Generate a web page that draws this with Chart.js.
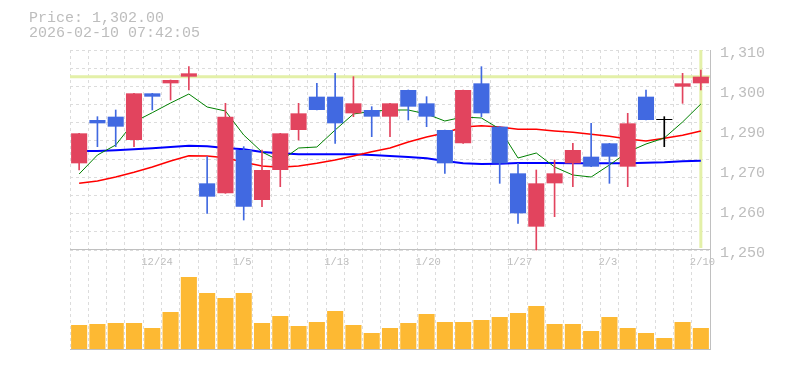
<!DOCTYPE html>
<html>
<head>
<meta charset="utf-8">
<script src="https://cdn.jsdelivr.net/npm/chart.js@4.4.1/dist/chart.umd.min.js"></script>
<style>
  html, body { margin: 0; padding: 0; background: #fff; }
  #wrap { position: relative; width: 785px; height: 370px; }
  #info {
    position: absolute; left: 29px; top: 11px;
    font: 15px/15px "Liberation Mono", monospace;
    color: #bdbdbd; white-space: pre;
  }
</style>
</head>
<body>
<div id="wrap">
  <canvas id="chart" width="785" height="370"></canvas>
  <div id="info"></div>
</div>
<script>
/* ---------------- DATA ---------------- */
const dates = ["12/18", "12/19", "12/22", "12/23", "12/24", "12/25", "12/26", "12/29", "12/30",
  "1/5", "1/6", "1/7", "1/8", "1/9", "1/13", "1/14", "1/15", "1/16", "1/19",
  "1/20", "1/21", "1/22", "1/23", "1/26", "1/27", "1/28", "1/29", "1/30", "2/2",
  "2/3", "2/4", "2/5", "2/6", "2/9", "2/10"];

const opens  = [1276, 1289, 1290, 1283, 1297, 1300, 1302, 1270, 1267, 1280, 1265, 1274, 1286, 1296, 1296, 1291, 1292, 1290,
  1298, 1294, 1286, 1282, 1300, 1287, 1273, 1257, 1270, 1276, 1278, 1282, 1275, 1296, 1289, 1299, 1300];
const highs  = [1285, 1290, 1292, 1297, 1297, 1301, 1305, 1278, 1294, 1281, 1280, 1285, 1294, 1300, 1303, 1302, 1293, 1294,
  1298, 1296, 1286, 1298, 1305, 1287, 1276, 1274, 1277, 1282, 1288, 1282, 1291, 1298, 1290, 1303, 1304];
const lows   = [1274, 1281, 1281, 1281, 1292, 1295, 1298, 1261, 1267, 1259, 1263, 1269, 1283, 1292, 1282, 1290, 1284, 1284,
  1289, 1287, 1273, 1282, 1290, 1270, 1258, 1250, 1260, 1269, 1275, 1270, 1269, 1289, 1281, 1294, 1298];
const closes = [1285, 1288, 1287, 1297, 1296, 1301, 1303, 1266, 1290, 1263, 1274, 1285, 1291, 1292, 1288, 1294, 1290, 1294,
  1293, 1290, 1276, 1298, 1291, 1276, 1261, 1270, 1273, 1280, 1275, 1278, 1288, 1289, 1289, 1300, 1302];

const ma5  = [1272.8, 1278.5, 1281.5, 1288.4, 1291.2, 1294.1, 1296.8, 1292.9, 1291.7, 1284.5, 1279.4, 1276.7, 1280.6,
  1280.9, 1286.0, 1290.8, 1291.6, 1292.0, 1292.0, 1290.8, 1288.7, 1289.9, 1289.6, 1286.3, 1277.6, 1279.1, 1274.9,
  1272.5, 1271.9, 1275.5, 1279.4, 1281.8, 1283.6, 1288.4, 1293.8];
const ma25 = [1270.0, 1270.7, 1271.9, 1273.3, 1274.9, 1276.7, 1278.3, 1278.2, 1277.7, 1276.3, 1275.2, 1274.8, 1275.2,
  1276.0, 1277.0, 1278.2, 1279.5, 1280.6, 1282.4, 1283.9, 1285.1, 1286.9, 1287.3, 1286.9, 1286.2, 1286.2, 1285.7,
  1285.3, 1284.7, 1284.1, 1283.3, 1282.7, 1283.5, 1284.4, 1285.7];
const ma75 = [1279.7, 1279.7, 1279.9, 1280.2, 1280.5, 1280.9, 1281.3, 1281.1, 1280.6, 1280.2, 1279.4, 1279.0, 1278.7,
  1278.7, 1278.7, 1278.7, 1278.5, 1278.2, 1277.9, 1277.5, 1276.7, 1276.0, 1275.8, 1275.9, 1276.1, 1276.1, 1276.1,
  1276.0, 1276.0, 1276.0, 1276.0, 1276.2, 1276.3, 1276.6, 1276.8];

const volumes = [240, 250, 260, 260, 210, 370, 720, 560, 510, 560, 260, 330, 230, 270, 380, 240, 160, 210,
  260, 350, 270, 270, 290, 320, 360, 430, 250, 250, 180, 320, 210, 160, 110, 270, 210];

const priceTicks = [1250, 1262, 1274, 1286, 1298, 1310];
const priceTickLabels = ["1,250", "1,260", "1,270", "1,290", "1,300", "1,310"];

const priceText = "Price: 1,302.00";
const timeText = "2026-02-10 07:42:05";

/* ---------------- LAYOUT ---------------- */
const PRICE_MIN = 1250, PRICE_MAX = 1310;
const PLOT_H = 299, PRICE_H = 200;      // price panel on top, volume panel below
const GRID_ROWS = 11;
const VOL_MAX = 2990;

const UP = "rgb(226,68,94)", DOWN = "rgb(65,105,225)", FLAT = "#000";
const GRID = "#dcdcdc", AXIS = "#c0c0c0", TEXT = "#bdbdbd";
const MONO = "'Liberation Mono', monospace";

document.getElementById("info").textContent = priceText + "\n" + timeText;

const candleColors = opens.map((o, i) => closes[i] > o ? UP : closes[i] < o ? DOWN : FLAT);

/* ---------------- CROSSHAIR ---------------- */
const crosshair = {
  id: "crosshair",
  beforeDatasetsDraw(chart) {
    const { ctx, chartArea, scales } = chart;
    const last = closes.length - 1;
    const x = scales.x.getPixelForValue(last);
    const y = scales.y.getPixelForValue(closes[last]);
    const bottom = scales.y.getPixelForValue(PRICE_MIN) - 2;
    ctx.save();
    ctx.strokeStyle = "#e3f0a8";
    ctx.lineWidth = 3;
    ctx.beginPath();
    ctx.moveTo(chartArea.left, y);
    ctx.lineTo(chartArea.right, y);
    ctx.moveTo(x, chartArea.top);
    ctx.lineTo(x, bottom);
    ctx.stroke();
    ctx.restore();
  }
};

/* ---------------- CHART ---------------- */
new Chart(document.getElementById("chart"), {
  type: "bar",
  data: {
    labels: dates,
    datasets: [
      {
        label: "body", order: 0, yAxisID: "y", grouped: false,
        data: opens.map((o, i) => [o, closes[i]]),
        backgroundColor: candleColors,
        barPercentage: 0.88, categoryPercentage: 1, minBarLength: 1
      },
      {
        label: "wick", order: 1, yAxisID: "y", grouped: false,
        data: lows.map((l, i) => [l, highs[i]]),
        backgroundColor: candleColors,
        barThickness: 1
      },
      { type: "line", label: "MA5", order: 2, yAxisID: "y", data: ma5,
        borderColor: "#008000", borderWidth: 1, pointRadius: 0, tension: 0 },
      { type: "line", label: "MA25", order: 3, yAxisID: "y", data: ma25,
        borderColor: "#ff0000", borderWidth: 1.5, pointRadius: 0, tension: 0 },
      { type: "line", label: "MA75", order: 4, yAxisID: "y", data: ma75,
        borderColor: "#0000ff", borderWidth: 2, pointRadius: 0, tension: 0 },
      {
        label: "volume", order: 5, yAxisID: "yv", grouped: false,
        data: volumes,
        backgroundColor: "#fdb933",
        barPercentage: 0.88, categoryPercentage: 1
      }
    ]
  },
  options: {
    responsive: false,
    animation: false,
    devicePixelRatio: 1,
    layout: { padding: { left: 70, top: 50, right: 0, bottom: 21 } },
    plugins: { legend: { display: false }, tooltip: { enabled: false }, title: { display: false } },
    scales: {
      x: {
        type: "category", position: "bottom", offset: true,
        grid: { offset: true, color: GRID, drawTicks: false },
        border: { color: AXIS, dash: [3, 3] },
        ticks: { display: false }
      },
      xl: {
        type: "category", position: { y: PRICE_MIN }, offset: true,
        grid: { display: false, drawTicks: false },
        border: { color: AXIS },
        afterFit: s => { s.height = 0; },
        ticks: {
          autoSkip: false, maxRotation: 0, minRotation: 0,
          align: "start", labelOffset: -11, padding: 6,
          color: TEXT, font: { family: MONO, size: 10.5 },
          callback: (v, i) => (dates.length - 1 - i) % 5 === 0 ? dates[i] : ""
        }
      },
      y: {
        position: "right",
        min: PRICE_MAX - (PRICE_MAX - PRICE_MIN) * PLOT_H / PRICE_H,
        max: PRICE_MAX,
        grid: { display: false, drawTicks: false },
        border: { color: AXIS },
        afterBuildTicks: s => { s.ticks = priceTicks.map(v => ({ value: v })); },
        afterFit: s => { s.width = 75; },
        ticks: {
          autoSkip: false, padding: 10, labelOffset: 3,
          color: TEXT, font: { family: MONO, size: 15 },
          callback: (v, i) => priceTickLabels[i]
        }
      },
      yg: {
        position: "left",
        min: GRID_ROWS - GRID_ROWS * PLOT_H / PRICE_H,
        max: GRID_ROWS,
        afterBuildTicks: s => { s.ticks = Array.from({ length: GRID_ROWS + 1 }, (_, k) => ({ value: k })); },
        afterFit: s => { s.width = 0; },
        grid: { color: GRID, drawTicks: false },
        border: { display: false, dash: [3, 3] },
        ticks: { display: false }
      },
      yv: { display: false, min: 0, max: VOL_MAX }
    }
  },
  plugins: [crosshair]
});
</script>
</body>
</html>
